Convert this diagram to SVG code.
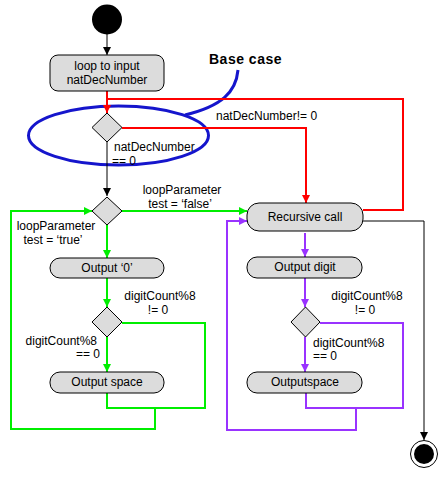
<svg xmlns="http://www.w3.org/2000/svg" width="444" height="477" viewBox="0 0 444 477">
<style>
text{font-family:"Liberation Sans",Arial,sans-serif;font-size:12px;fill:#000}
.m{text-anchor:middle}
.e{text-anchor:end}
.act{fill:#dcdcdc;stroke:#000;stroke-width:1}
.dec{fill:#dcdcdc;stroke:#000;stroke-width:1}
.k{fill:none;stroke:#000;stroke-width:1}
.r{fill:none;stroke:#ff0000;stroke-width:2}
.g{fill:none;stroke:#00ee00;stroke-width:2}
.p{fill:none;stroke:#9933ff;stroke-width:2}
.b{fill:none;stroke:#1515cc;stroke-width:3}
</style>
<defs>
<marker id="ak" viewBox="0 0 10 10" refX="10" refY="5" markerWidth="10" markerHeight="8" orient="auto" markerUnits="userSpaceOnUse"><path d="M0,0 L10,5 L0,10 z" fill="#000"/></marker>
<marker id="ar" viewBox="0 0 10 10" refX="10" refY="5" markerWidth="10" markerHeight="8" orient="auto" markerUnits="userSpaceOnUse"><path d="M0,0 L10,5 L0,10 z" fill="#ff0000"/></marker>
<marker id="ag" viewBox="0 0 10 10" refX="10" refY="5" markerWidth="10" markerHeight="8" orient="auto" markerUnits="userSpaceOnUse"><path d="M0,0 L10,5 L0,10 z" fill="#00ee00"/></marker>
<marker id="ap" viewBox="0 0 10 10" refX="10" refY="5" markerWidth="10" markerHeight="8" orient="auto" markerUnits="userSpaceOnUse"><path d="M0,0 L10,5 L0,10 z" fill="#9933ff"/></marker>
</defs>
<g id="annotation">
<ellipse class="b" cx="118.5" cy="135.5" rx="90" ry="29.5"/>
<path class="b" d="M238 70 C236 92 222 106 185 115"/>
<text x="209" y="64" style="font-weight:bold;font-size:14px;letter-spacing:0.5px">Base case</text>
</g>
<g id="connectors">
<path class="k" d="M107 34 V55" marker-end="url(#ak)"/>
<path class="r" d="M107 91 V113" marker-end="url(#ar)"/>
<path class="r" d="M363 210 H403 V99 H107"/>
<path class="r" d="M122 128 H306 V203" marker-end="url(#ar)"/>
<path class="k" d="M107 142 V196" marker-end="url(#ak)"/>
<path class="g" d="M122 211 H247" marker-end="url(#ag)"/>
<path class="g" d="M107 225 V258" marker-end="url(#ag)"/>
<path class="g" d="M107 278 V307" marker-end="url(#ag)"/>
<path class="g" d="M107 337 V372" marker-end="url(#ag)"/>
<path class="g" d="M122 323 H205 V408 H107 V393"/>
<path class="g" d="M155 408 V429 H11 V211 H92" marker-end="url(#ag)"/>
<path class="p" d="M305 233 V257" marker-end="url(#ap)"/>
<path class="p" d="M305 278 V307" marker-end="url(#ap)"/>
<path class="p" d="M305 337 V372" marker-end="url(#ap)"/>
<path class="p" d="M320 323 H403 V408 H306 V393"/>
<path class="p" d="M356 408 V430 H227 V221 H247" marker-end="url(#ap)"/>
<path class="k" d="M363 221 H424 V440" marker-end="url(#ak)"/>
<text x="216" y="120">natDecNumber!= 0</text>
<text x="114" y="151">natDecNumber</text>
<text x="112" y="165">== 0</text>
<text class="m" x="182" y="194">loopParameter</text>
<text class="m" x="180" y="208">test = ‘false’</text>
<text class="m" x="56" y="230">loopParameter</text>
<text class="m" x="53" y="244">test = ‘true’</text>
<text class="m" x="160" y="300">digitCount%8</text>
<text class="m" x="158" y="314">!= 0</text>
<text class="e" x="97" y="345">digitCount%8</text>
<text class="e" x="100" y="358">== 0</text>
<text class="m" x="367" y="300">digitCount%8</text>
<text class="m" x="365" y="314">!= 0</text>
<text x="313" y="347">digitCount%8</text>
<text x="313" y="360">== 0</text>
</g>
<g id="start"><circle cx="107" cy="19.5" r="15" fill="#000"/></g>
<g id="loopInput"><rect class="act" x="50" y="55" width="114" height="36" rx="8"/><text class="m" x="107" y="70">loop to input</text><text class="m" x="107" y="84">natDecNumber</text></g>
<g id="baseDecision"><path class="dec" d="M107 113 L122 127.5 L107 142 L92 127.5 z"/></g>
<g id="loopDecision"><path class="dec" d="M107 197 L122 211 L107 225 L92 211 z"/></g>
<g id="output0"><rect class="act" x="50" y="258" width="114" height="20" rx="10"/><text class="m" x="107" y="272">Output ‘0’</text></g>
<g id="spaceDecisionL"><path class="dec" d="M107 307 L122 322 L107 337 L92 322 z"/></g>
<g id="outputSpaceL"><rect class="act" x="50" y="372" width="114" height="21" rx="10"/><text class="m" x="107" y="386">Output space</text></g>
<g id="recursiveCall"><rect class="act" x="247" y="203" width="116" height="28" rx="12"/><text class="m" x="305" y="221">Recursive call</text></g>
<g id="outputDigit"><rect class="act" x="247" y="257" width="115" height="21" rx="10"/><text class="m" x="305" y="271">Output digit</text></g>
<g id="spaceDecisionR"><path class="dec" d="M305.5 307 L320 322 L305.5 337 L291 322 z"/></g>
<g id="outputSpaceR"><rect class="act" x="247" y="372" width="115" height="21" rx="10"/><text class="m" x="305" y="386">Outputspace</text></g>
<g id="end"><circle cx="424" cy="454" r="13.5" fill="#fff" stroke="#000" stroke-width="1"/><circle cx="424" cy="454" r="10" fill="#000"/></g>
</svg>
